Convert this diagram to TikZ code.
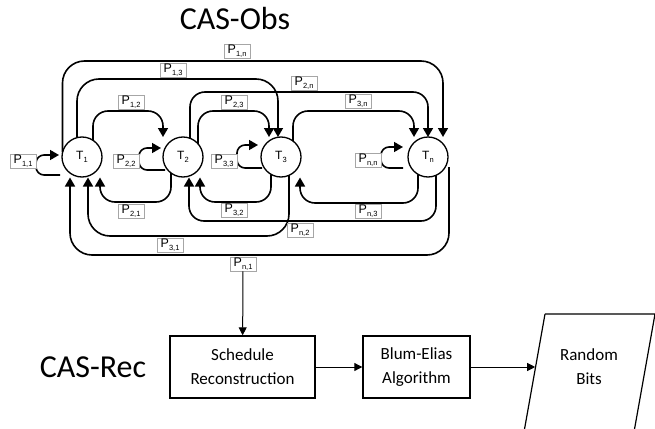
\documentclass[tikz,border=0pt]{standalone}
\usepackage{fontspec}
\setmainfont{Liberation Sans}
\newfontfamily\calfont{Carlito}
\usetikzlibrary{arrows.meta,calc}
\newcommand\Sb[2]{#1\kern0.2pt\raisebox{-2.6pt}{\fontsize{7.5}{7.5}\selectfont #2}}
\begin{document}
\begin{tikzpicture}[x=1pt,y=-1pt,
  conn/.style={line width=1.6pt, rounded corners=15pt},
  wide/.style={rounded corners=22pt},
  loopc/.style={line width=1.6pt, rounded corners=8pt},
  tip/.style={-{Triangle[width=10pt,length=9pt]}},
  plabel/.style={draw=gray!70, line width=0.7pt, fill=white, minimum width=26pt, minimum height=14pt, inner sep=1pt, font=\fontsize{12.5}{12.5}\selectfont},
  tnode/.style={circle, draw, line width=1.3pt, minimum size=40pt, inner sep=0pt, font=\fontsize{12}{12}\selectfont},
  procbox/.style={draw, line width=1.4pt, align=center, inner sep=0pt, font=\calfont\fontsize{17}{24}\selectfont},
  flow/.style={line width=1pt, -{Triangle[width=8pt,length=8pt]}},
  title/.style={font=\calfont\fontsize{32}{32}\selectfont}]
\useasboundingbox (0,0) rectangle (655,428);
\clip (0,0) rectangle (655,428);

% titles
\node[title] (obs) at (235,19) {CAS-Obs};
\node[title] (rec) at (93,367) {CAS-Rec};

% task nodes
\node[tnode] (T1) at (82,157) {\Sb{T}{1}};
\node[tnode] (T2) at (183,157) {\Sb{T}{2}};
\node[tnode] (T3) at (281,157) {\Sb{T}{3}};
\node[tnode] (Tn) at (428,157) {\Sb{T}{n}};

% level coordinates
\coordinate (y61) at (0,61);
\coordinate (y79) at (0,79);
\coordinate (y92) at (0,92);
\coordinate (y111) at (0,111);
\coordinate (y202) at (0,202);
\coordinate (y203) at (0,203);
\coordinate (y221) at (0,221);
\coordinate (y236) at (0,236);
\coordinate (y255) at (0,255);

% top connectors
\coordinate (s1n) at ($(T1)+(-19.5,-5)$);
\coordinate (e1n) at ($(Tn)+(15,-20)$);
\coordinate (s13) at ($(T1)+(-5,-19.4)$);
\coordinate (e13) at ($(T3)+(-3,-20)$);
\coordinate (s12) at ($(T1)+(11,-16.7)$);
\coordinate (e12) at ($(T2)+(-20,-20)$);
\coordinate (s2n) at ($(T2)+(7,-18.7)$);
\coordinate (e2n) at ($(Tn)+(0,-20)$);
\coordinate (s23) at ($(T2)+(15,-13.2)$);
\coordinate (e23) at ($(T3)+(-12,-20)$);
\coordinate (s3n) at ($(T3)+(12,-16)$);
\coordinate (e3n) at ($(Tn)+(-14,-20)$);

\draw[conn,wide,tip] (s1n) -- (s1n |- y61) -- (e1n |- y61) -- (e1n);
\draw[conn,wide,tip] (s13) -- (s13 |- y79) -- (e13 |- y79) -- (e13);
\draw[conn,tip] (s12) -- (s12 |- y111) -- (e12 |- y111) -- (e12);
\draw[conn,tip] (s2n) -- (s2n |- y92) -- (e2n |- y92) -- (e2n);
\draw[conn,tip] (s23) -- (s23 |- y111) -- (e23 |- y111) -- (e23);
\draw[conn,tip] (s3n) -- (s3n |- y111) -- (e3n |- y111) -- (e3n);

% bottom connectors
\coordinate (s21) at ($(T2)+(-12,16)$);
\coordinate (e21) at ($(T1)+(18,20.5)$);
\coordinate (s32) at ($(T3)+(-10,17.3)$);
\coordinate (e32) at ($(T2)+(17,20.5)$);
\coordinate (s31) at ($(T3)+(8,18.3)$);
\coordinate (e31) at ($(T1)+(6,20.5)$);
\coordinate (sn3) at ($(Tn)+(-10,17.3)$);
\coordinate (en3) at ($(T3)+(19,20.5)$);
\coordinate (sn2) at ($(Tn)+(8,18.3)$);
\coordinate (en2) at ($(T2)+(6,20.5)$);
\coordinate (sn1) at ($(Tn)+(21,10)$);
\coordinate (en1) at ($(T1)+(-12,20.5)$);

\draw[conn,tip] (s21) -- (s21 |- y202) -- (e21 |- y202) -- (e21);
\draw[conn,tip] (s32) -- (s32 |- y202) -- (e32 |- y202) -- (e32);
\draw[conn,wide,tip] (s31) -- (s31 |- y236) -- (e31 |- y236) -- (e31);
\draw[conn,tip] (sn3) -- (sn3 |- y203) -- (en3 |- y203) -- (en3);
\draw[conn,tip] (sn2) -- (sn2 |- y221) -- (en2 |- y221) -- (en2);
\draw[conn,wide,tip] (sn1) -- (sn1 |- y255) -- (en1 |- y255) -- (en1);

% self loops
\draw[loopc,tip] ($(T1)+(-22,18)$) -| (36,155) -- ($(T1)+(-23,-2)$);
\draw[loopc,tip] ($(T2)+(-18,13)$) -| (139,148) -- ($(T2)+(-22,-9)$);
\draw[loopc,tip] ($(T3)+(-19,11)$) -| (237,145) -- ($(T3)+(-23,-12)$);
\draw[loopc,tip] ($(Tn)+(-25,11)$) -| (381,147) -- ($(Tn)+(-25,-10)$);

% labels
\node[plabel] (l11) at (23,161) {\Sb{P}{1,1}};
\node[plabel] (l22) at (126,161) {\Sb{P}{2,2}};
\node[plabel] (l33) at (224,161) {\Sb{P}{3,3}};
\node[plabel] (lnn) at (368,160) {\Sb{P}{n,n}};
\node[plabel] (l1n) at (237,51) {\Sb{P}{1,n}};
\node[plabel] (l13) at (173,70) {\Sb{P}{1,3}};
\node[plabel] (l2n) at (304,83) {\Sb{P}{2,n}};
\node[plabel] (l12) at (131,102) {\Sb{P}{1,2}};
\node[plabel] (l23) at (234,102) {\Sb{P}{2,3}};
\node[plabel] (l3n) at (358,101) {\Sb{P}{3,n}};
\node[plabel] (l21) at (131,211) {\Sb{P}{2,1}};
\node[plabel] (l32) at (234,210) {\Sb{P}{3,2}};
\node[plabel] (ln3) at (368,211) {\Sb{P}{n,3}};
\node[plabel] (ln2) at (300,230) {\Sb{P}{n,2}};
\node[plabel] (l31) at (170,245) {\Sb{P}{3,1}};
\node[plabel] (ln1) at (243,264) {\Sb{P}{n,1}};

% CAS-Rec pipeline
\node[procbox, minimum width=145pt, minimum height=62pt] (sched) at (242.5,367) {Schedule\\Reconstruction};
\node[procbox, minimum width=107pt, minimum height=62pt] (blum) at (416.5,367) {Blum-Elias\\Algorithm};
\draw[line width=1.2pt] (545,314) -- (656,314) (655,314) -- (634,432) (524,432) -- (545,314);
\coordinate (rbin) at (535.2,367);
\node[align=center, font=\calfont\fontsize{17}{24}\selectfont] (rb) at (589,367) {Random\\Bits};
\draw[flow] (ln1) -- (sched);
\draw[flow] (sched) -- (blum);
\draw[flow] (blum) -- (rbin);
\end{tikzpicture}
\end{document}
